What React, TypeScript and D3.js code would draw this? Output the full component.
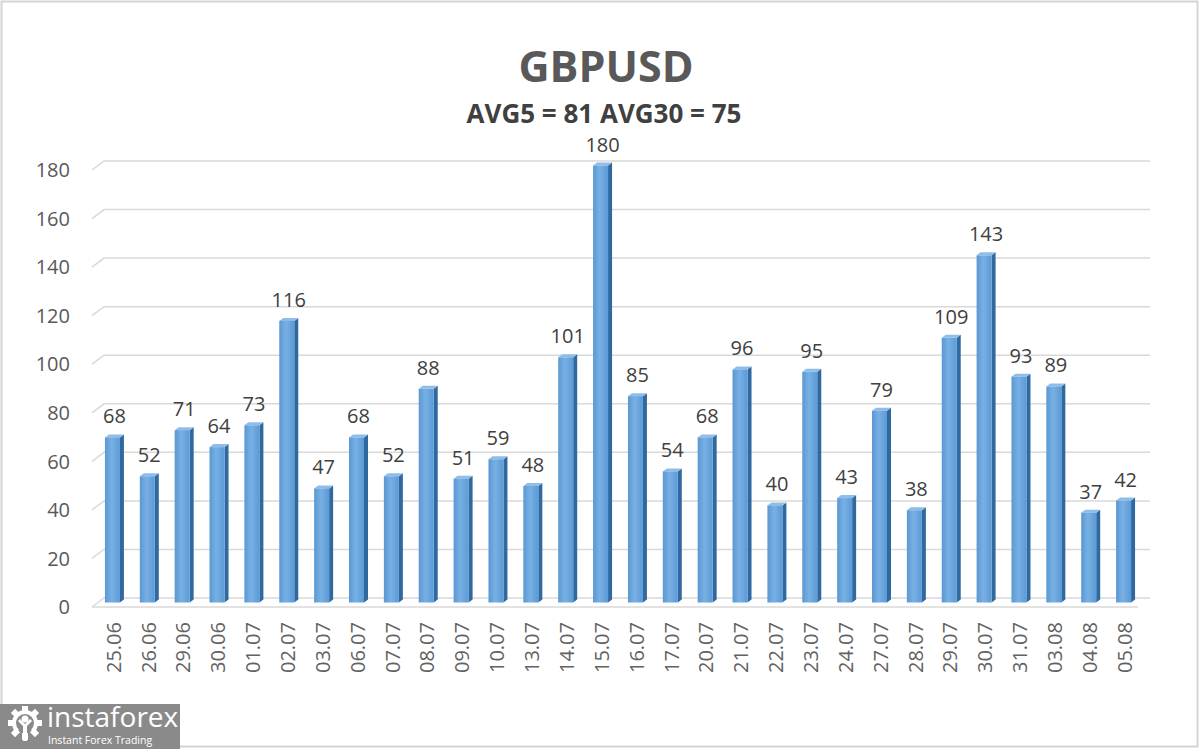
import { useEffect, useRef } from 'react';
import * as d3 from 'd3';

const dates = [
  '25.06', '26.06', '29.06', '30.06', '01.07', '02.07', '03.07', '06.07', '07.07', '08.07',
  '09.07', '10.07', '13.07', '14.07', '15.07', '16.07', '17.07', '20.07', '21.07', '22.07',
  '23.07', '24.07', '27.07', '28.07', '29.07', '30.07', '31.07', '03.08', '04.08', '05.08',
];
const values = [
  68, 52, 71, 64, 73, 116, 47, 68, 52, 88,
  51, 59, 48, 101, 180, 85, 54, 68, 96, 40,
  95, 43, 79, 38, 109, 143, 93, 89, 37, 42,
];
const yTicks = [0, 20, 40, 60, 80, 100, 120, 140, 160, 180];
const title = 'GBPUSD';
const subtitle = 'AVG5 = 81 AVG30 = 75';

const W = 1200;
const H = 749;

export default function App() {
  const svgRef = useRef<SVGSVGElement | null>(null);

  useEffect(() => {
    if (!svgRef.current) return;
    const svg = d3.select(svgRef.current);
    svg.selectAll('*').remove();

    const font = '"Open Sans", "Noto Sans", sans-serif';
    // 3D depth offset of the plot floor / back wall
    const dx = 12;
    const dy = 9;
    const left = 92;
    const right = 1138;

    const x = d3.scaleBand<string>()
      .domain(dates)
      .range([left + 3, right + 3])
      .paddingInner(0.57)
      .paddingOuter(0.285);

    // front edge scale (labels), back wall = -dy, bars sit half way
    const y = d3.scaleLinear().domain([0, 180]).range([607, 170]);

    // gradient for the bar fronts
    const defs = svg.append('defs');
    const grad = defs.append('linearGradient').attr('id', 'barFront')
      .attr('x1', '0').attr('x2', '1').attr('y1', '0').attr('y2', '0');
    grad.append('stop').attr('offset', '0%').attr('stop-color', '#5a98d2');
    grad.append('stop').attr('offset', '45%').attr('stop-color', '#78b0e4');
    grad.append('stop').attr('offset', '100%').attr('stop-color', '#5b9ad6');

    // background + frame
    svg.append('rect').attr('width', W).attr('height', H).attr('fill', '#ffffff');
    svg.append('rect')
      .attr('x', 1.5).attr('y', 1.5)
      .attr('width', W - 4).attr('height', H - 4)
      .attr('fill', 'none')
      .attr('stroke', '#d4d4d4')
      .attr('stroke-width', 2);

    // grid lines on back wall with slanted side wall segment
    const grid = svg.append('g').attr('stroke', '#d9d9d9').attr('stroke-width', 1.5).attr('fill', 'none');
    yTicks.forEach(t => {
      grid.append('path')
        .attr('d', `M${left},${y(t)} L${left + dx},${y(t) - dy} L${right + dx},${y(t) - dy}`);
    });
    // floor front edge
    grid.append('line')
      .attr('x1', left).attr('x2', right)
      .attr('y1', y(0)).attr('y2', y(0));

    // y axis labels
    svg.append('g')
      .selectAll('text')
      .data(yTicks)
      .enter()
      .append('text')
      .attr('x', 70)
      .attr('y', d => y(d))
      .attr('dy', '0.36em')
      .attr('text-anchor', 'end')
      .attr('font-family', font)
      .attr('font-size', 20)
      .attr('fill', '#595959')
      .text(d => d);

    // bars
    const bw = x.bandwidth();
    const depth = 4;
    const bars = svg.append('g');
    dates.forEach((d, i) => {
      const x0 = x(d) as number;
      const top = y(values[i]) - dy / 2;
      const bottom = y(0) - dy / 2;
      // side face
      bars.append('polygon')
        .attr('points', [
          [x0 + bw, top], [x0 + bw + depth, top - 3],
          [x0 + bw + depth, bottom - 3], [x0 + bw, bottom],
        ].map(p => p.join(',')).join(' '))
        .attr('fill', '#2f69a0');
      // top face
      bars.append('polygon')
        .attr('points', [
          [x0, top], [x0 + bw, top],
          [x0 + bw + depth, top - 3], [x0 + depth, top - 3],
        ].map(p => p.join(',')).join(' '))
        .attr('fill', '#8fbde9');
      // front face
      bars.append('rect')
        .attr('x', x0)
        .attr('y', top)
        .attr('width', bw)
        .attr('height', bottom - top)
        .attr('fill', 'url(#barFront)');
    });

    // value labels
    svg.append('g')
      .selectAll('text')
      .data(values)
      .enter()
      .append('text')
      .attr('x', (d, i) => (x(dates[i]) as number) + bw / 2 + 2)
      .attr('y', d => y(d) - dy / 2 - 14)
      .attr('text-anchor', 'middle')
      .attr('font-family', font)
      .attr('font-size', 20)
      .attr('fill', '#404040')
      .text(d => d);

    // x axis labels (rotated)
    svg.append('g')
      .selectAll('text')
      .data(dates)
      .enter()
      .append('text')
      .attr('transform', d => `translate(${(x(d) as number) + bw / 2 + 1},622) rotate(-90)`)
      .attr('text-anchor', 'end')
      .attr('dy', '0.36em')
      .attr('font-family', font)
      .attr('font-size', 20)
      .attr('fill', '#626262')
      .text(d => d);

    // titles
    svg.append('text')
      .attr('x', 606)
      .attr('y', 82)
      .attr('text-anchor', 'middle')
      .attr('font-family', font)
      .attr('font-weight', 'bold')
      .attr('font-size', 43)
      .attr('fill', '#595959')
      .text(title);

    svg.append('text')
      .attr('x', 604)
      .attr('y', 123)
      .attr('text-anchor', 'middle')
      .attr('font-family', font)
      .attr('font-weight', 'bold')
      .attr('font-size', 26)
      .attr('fill', '#404040')
      .text(subtitle);

    // watermark
    const wm = svg.append('g');
    wm.append('rect').attr('x', 0).attr('y', 704).attr('width', 180).attr('height', 45).attr('fill', '#8a8a8a');
    const gear = wm.append('g').attr('transform', 'translate(25,723)').attr('fill', '#ffffff');
    d3.range(8).forEach(k => {
      gear.append('rect')
        .attr('x', -3).attr('y', -17).attr('width', 6).attr('height', 7)
        .attr('transform', `rotate(${k * 45})`);
    });
    gear.append('path')
      .attr('d', d3.arc()({ innerRadius: 9, outerRadius: 13, startAngle: -2.4, endAngle: 2.4 }) as string);
    gear.append('circle').attr('cx', 0).attr('cy', -4).attr('r', 3.5);
    gear.append('path')
      .attr('d', 'M-7,-2 L-2,3 L-2,18 L2,18 L2,3 L7,-2 L5,-4 L0,1 L-5,-4 Z');
    wm.append('text')
      .attr('x', 47).attr('y', 727)
      .attr('font-family', font)
      .attr('font-size', 28)
      .attr('fill', '#ffffff')
      .text('instaforex');
    wm.append('text')
      .attr('x', 48).attr('y', 744)
      .attr('font-family', font)
      .attr('font-size', 10.5)
      .attr('fill', '#ffffff')
      .text('Instant Forex Trading');
  }, []);

  return (
    <svg
      ref={svgRef}
      width={W}
      height={H}
      style={{ position: 'absolute', left: 0, top: 0, display: 'block' }}
    />
  );
}
